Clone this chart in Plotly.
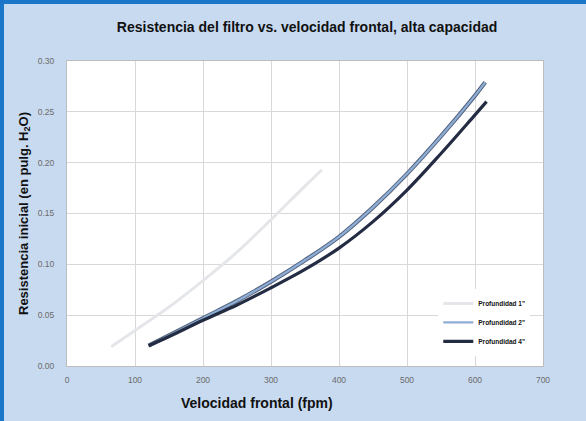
import plotly.graph_objects as go

# Data
x_p1 = [65, 100, 150, 200, 250, 300, 350, 375]
y_p1 = [0.019, 0.035, 0.058, 0.084, 0.112, 0.144, 0.177, 0.193]

x_p2 = [120, 150, 200, 250, 300, 350, 400, 450, 500, 550, 600, 615]
y_p2 = [0.020, 0.030, 0.047, 0.064, 0.083, 0.104, 0.127, 0.156, 0.189, 0.226, 0.266, 0.279]

x_p4 = [120, 150, 200, 250, 300, 350, 400, 450, 500, 550, 600, 617]
y_p4 = [0.020, 0.029, 0.045, 0.060, 0.077, 0.095, 0.116, 0.142, 0.173, 0.209, 0.247, 0.260]

series_names = ['Profundidad 1"', 'Profundidad 2"', 'Profundidad 4"']
x_ticks = [0, 100, 200, 300, 400, 500, 600, 700]
y_ticks = [0.00, 0.05, 0.10, 0.15, 0.20, 0.25, 0.30]

FONT = "Liberation Sans, Arial, sans-serif"

fig = go.Figure()
fig.add_trace(go.Scatter(x=x_p1, y=y_p1, mode="lines", name="<b>" + series_names[0] + "</b>",
                         legendgroup="g1",
                         line=dict(color="#e4e6ea", width=3, shape="spline")))
# dark edge under the blue line
fig.add_trace(go.Scatter(x=x_p2, y=y_p2, mode="lines", showlegend=False, hoverinfo="skip",
                         legendgroup="g2",
                         line=dict(color="#55647f", width=4.2, shape="spline")))
fig.add_trace(go.Scatter(x=x_p2, y=y_p2, mode="lines", name="<b>" + series_names[1] + "</b>",
                         legendgroup="g2",
                         line=dict(color="#8eaed6", width=2.2, shape="spline")))
fig.add_trace(go.Scatter(x=x_p4, y=y_p4, mode="lines", name="<b>" + series_names[2] + "</b>",
                         legendgroup="g4",
                         line=dict(color="#232c42", width=3.2, shape="spline")))

fig.update_layout(
    width=586, height=421,
    margin=dict(l=67, r=43, t=61, b=55),
    paper_bgcolor="#c8daf0",
    plot_bgcolor="#ffffff",
    title=dict(text="<b>Resistencia del filtro vs. velocidad frontal, alta capacidad</b>",
               x=0.524, xanchor="center", y=0.935, yanchor="middle",
               font=dict(family=FONT, size=14, color="#111111")),
    font=dict(family=FONT),
    showlegend=True,
    legend=dict(x=0.78, y=0.033, xanchor="left", yanchor="bottom",
                bgcolor="#ffffff", borderwidth=0,
                font=dict(size=6.5, color="#111111", family=FONT),
                itemwidth=30, tracegroupgap=0),
    xaxis=dict(range=[0, 700], tickvals=x_ticks, ticktext=[str(v) for v in x_ticks],
               showgrid=True, gridcolor="#d8d8d8", gridwidth=1,
               showline=True, linecolor="#bdbdbd", linewidth=1, mirror=True,
               zeroline=False, ticks="", ticklabelstandoff=6,
               tickfont=dict(size=8.5, color="#6b6b6b")),
    yaxis=dict(range=[0, 0.30], tickvals=y_ticks, tickformat=".2f",
               showgrid=True, gridcolor="#d8d8d8", gridwidth=1,
               showline=True, linecolor="#bdbdbd", linewidth=1, mirror=True,
               zeroline=False, ticks="", ticklabelstandoff=10,
               tickfont=dict(size=8.5, color="#6b6b6b"),
               title=dict(text="<b>Resistencia inicial (en pulg. H<sub>2</sub>O)</b>",
                          font=dict(size=13, color="#111111"), standoff=6)),
)

fig.add_annotation(text="<b>Velocidad frontal (fpm)</b>", xref="paper", yref="paper",
                   x=(257 - 67) / 476, y=-(403 - 366) / 305, xanchor="center", yanchor="middle",
                   showarrow=False, font=dict(size=14, color="#111111"))

# blue frame on left and top
fig.add_shape(type="line", xref="paper", yref="paper",
              x0=-65 / 476, x1=-65 / 476, y0=-55 / 305, y1=1 + 61 / 305,
              line=dict(color="#1b76c9", width=4))
fig.add_shape(type="line", xref="paper", yref="paper",
              x0=-67 / 476, x1=1 + 43 / 476, y0=1 + 59 / 305, y1=1 + 59 / 305,
              line=dict(color="#1b76c9", width=4))

fig.write_html("out.html",
               config={"displayModeBar": False},
               post_script="document.body.style.margin='0';document.body.style.padding='0';")
